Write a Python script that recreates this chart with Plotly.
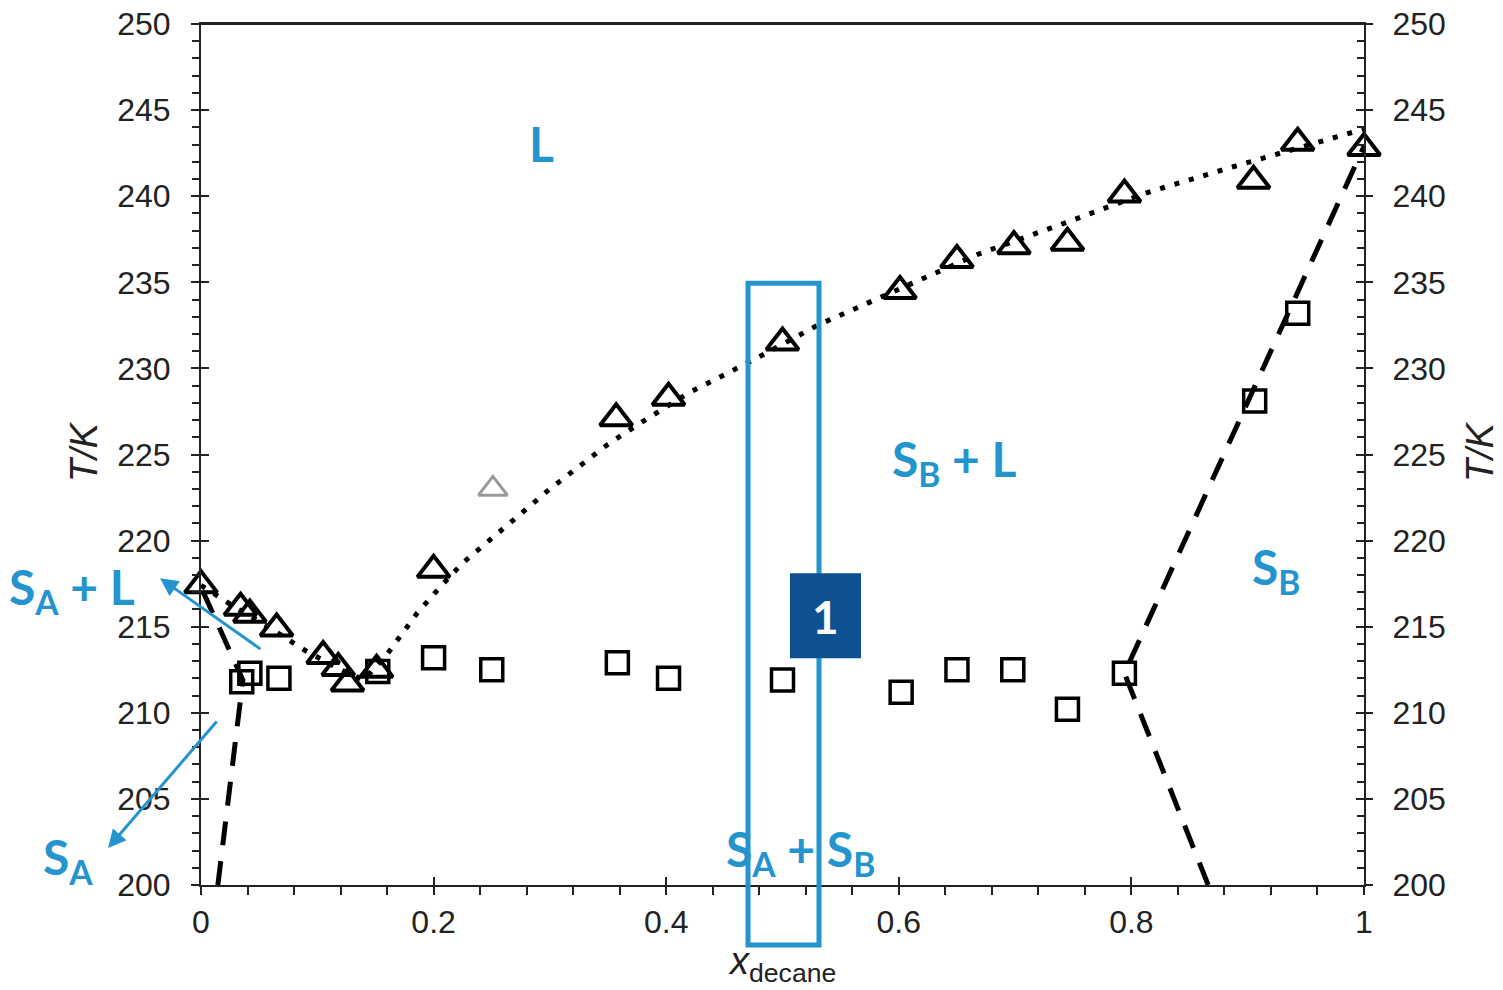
import plotly.graph_objects as go

# ---------------- data ----------------
tri_x = [0.0, 0.034, 0.042, 0.065, 0.105, 0.118, 0.126, 0.151, 0.200, 0.357, 0.402,
         0.500, 0.601, 0.650, 0.699, 0.745, 0.794, 0.905, 0.943, 1.000]
tri_T = [217.4, 216.1, 215.7, 214.9, 213.3, 212.6, 211.7, 212.5, 218.3, 227.1, 228.3,
         231.5, 234.5, 236.3, 237.1, 237.3, 240.1, 240.9, 243.1, 242.8]

sq_x = [0.035, 0.042, 0.067, 0.152, 0.200, 0.250, 0.358, 0.402, 0.500, 0.602, 0.650,
        0.698, 0.745, 0.794, 0.906, 0.943]
sq_T = [211.8, 212.3, 212.0, 212.4, 213.2, 212.5, 212.9, 212.0, 211.9, 211.2, 212.5,
        212.5, 210.2, 212.3, 228.1, 233.2]

grey_x = [0.251]
grey_T = [223.0]

liq_x = [0.0, 0.03, 0.06, 0.09, 0.12, 0.14, 0.16, 0.186, 0.2055, 0.225, 0.246, 0.30,
         0.35, 0.377, 0.42, 0.478, 0.53, 0.586, 0.629, 0.667, 0.745, 0.813, 0.887,
         0.96, 1.0]
liq_T = [217.4, 216.1, 214.9, 213.6, 212.5, 211.9, 213.4, 215.8, 217.3, 218.7, 219.9,
         223.0, 225.6, 226.8, 228.6, 230.6, 232.5, 234.2, 235.5, 236.6, 238.5, 240.2,
         241.7, 243.1, 243.9]

solA_x = [0.0145, 0.036, 0.0]
solA_T = [200.0, 211.9, 217.3]
solB_x = [0.866, 0.794, 1.0]
solB_T = [200.0, 212.3, 242.9]

x_ticks = [0, 0.2, 0.4, 0.6, 0.8, 1]
x_ticklabels = ["0", "0.2", "0.4", "0.6", "0.8", "1"]
y_ticks = [200, 205, 210, 215, 220, 225, 230, 235, 240, 245, 250]

# ---------------- styling ----------------
BLUE = "#2394CE"
DARK = "#0E5190"
AX = "#222222"
W, H = 1503, 990
L_PX, R_PX, T_PX, B_PX = 201, 1364, 23.5, 885


def px(x):
    return (x - L_PX) / (R_PX - L_PX)


def py(y):
    return (B_PX - y) / (B_PX - T_PX)


fig = go.Figure()

fig.add_trace(go.Scatter(x=liq_x, y=liq_T, mode="lines",
                         line=dict(color="black", width=5, dash="5px,10px"),
                         showlegend=False, hoverinfo="skip"))
fig.add_trace(go.Scatter(x=solA_x, y=solA_T, mode="lines",
                         line=dict(color="black", width=5, dash="24px,16px"),
                         showlegend=False, hoverinfo="skip"))
fig.add_trace(go.Scatter(x=solB_x, y=solB_T, mode="lines",
                         line=dict(color="black", width=5, dash="24px,16px"),
                         showlegend=False, hoverinfo="skip"))
fig.add_trace(go.Scatter(x=grey_x, y=grey_T, mode="markers",
                         marker=dict(symbol="triangle-up-open", size=25, color="#9a9a9a",
                                     line=dict(width=3, color="#9a9a9a")),
                         showlegend=False, hoverinfo="skip"))
fig.add_trace(go.Scatter(x=sq_x, y=sq_T, mode="markers",
                         marker=dict(symbol="square-open", size=22, color="black",
                                     line=dict(width=3.5, color="black")),
                         showlegend=False))
fig.add_trace(go.Scatter(x=tri_x, y=tri_T, mode="markers",
                         marker=dict(symbol="triangle-up-open", size=28, color="black",
                                     line=dict(width=4, color="black")),
                         showlegend=False, cliponaxis=False))

# dummy traces for auxiliary axes
fig.add_trace(go.Scatter(x=[None], y=[None], xaxis="x2", yaxis="y", showlegend=False, hoverinfo="skip"))
fig.add_trace(go.Scatter(x=[None], y=[None], xaxis="x", yaxis="y2", showlegend=False, hoverinfo="skip"))
fig.add_trace(go.Scatter(x=[None], y=[None], xaxis="x", yaxis="y3", showlegend=False, hoverinfo="skip"))
fig.add_trace(go.Scatter(x=[None], y=[None], xaxis="x", yaxis="y4", showlegend=False, hoverinfo="skip"))

tickfont = dict(family="Liberation Sans, Arial", size=32, color=AX)

fig.update_layout(
    width=W, height=H,
    margin=dict(l=L_PX, r=W - R_PX, t=T_PX, b=H - B_PX, autoexpand=False),
    paper_bgcolor="white", plot_bgcolor="white",
    xaxis=dict(range=[0, 1], tickvals=x_ticks, ticktext=x_ticklabels, automargin=False,
               ticks="outside", ticklen=8, tickwidth=2, tickcolor=AX,
               minor=dict(dtick=0.04, tick0=0, ticks="outside", ticklen=8, tickwidth=2, tickcolor=AX),
               showline=True, linecolor=AX, linewidth=2, mirror=True,
               showgrid=False, zeroline=False, tickfont=tickfont, ticklabelstandoff=0,
               ticklabeloverflow="allow"),
    xaxis2=dict(range=[0, 1], overlaying="x", side="bottom", anchor="y", automargin=False,
                tickvals=x_ticks, ticks="inside", ticklen=8, tickwidth=2, tickcolor=AX,
                showticklabels=False, showline=False, showgrid=False, zeroline=False),
    yaxis=dict(range=[200, 250], tickvals=y_ticks, ticks="outside", ticklen=8, tickwidth=2,
               tickcolor=AX, automargin=False, ticklabeloverflow="allow",
               minor=dict(dtick=1, tick0=200, ticks="outside", ticklen=7, tickwidth=2, tickcolor=AX),
               showline=True, linecolor=AX, linewidth=2, showgrid=False, zeroline=False,
               tickfont=tickfont, ticklabelstandoff=14),
    yaxis2=dict(range=[200, 250], overlaying="y", side="left", anchor="x", automargin=False,
                tickvals=y_ticks, ticks="inside", ticklen=8, tickwidth=2, tickcolor=AX,
                showticklabels=False, showline=False, showgrid=False, zeroline=False),
    yaxis3=dict(range=[200, 250], overlaying="y", side="right", anchor="x", automargin=False,
                tickvals=y_ticks, ticks="inside", ticklen=8, tickwidth=2, tickcolor=AX,
                ticklabeloverflow="allow",
                minor=dict(dtick=1, tick0=200, ticks="inside", ticklen=7, tickwidth=2, tickcolor=AX),
                showline=True, linecolor=AX, linewidth=2, showgrid=False, zeroline=False,
                tickfont=tickfont, ticklabelstandoff=20),
    yaxis4=dict(range=[200, 250], overlaying="y", side="right", anchor="x", automargin=False,
                tickvals=y_ticks, ticks="outside", ticklen=8, tickwidth=2, tickcolor=AX,
                showticklabels=False, showline=False, showgrid=False, zeroline=False),
)

# top frame line
fig.add_shape(type="line", xref="paper", yref="paper", x0=0, x1=1, y0=1, y1=1,
              line=dict(color=AX, width=2), layer="above")

# shapes: blue selection rectangle and dark box
fig.add_shape(type="rect", xref="paper", yref="paper",
              x0=px(748), x1=px(819), y0=py(945), y1=py(283),
              line=dict(color=BLUE, width=5), fillcolor="rgba(0,0,0,0)", layer="above")
fig.add_shape(type="rect", xref="paper", yref="paper",
              x0=px(790), x1=px(861), y0=py(658), y1=py(573),
              line=dict(width=0), fillcolor=DARK, layer="above")

lab = dict(family="Lato, Open Sans, sans-serif", size=48, color=BLUE, weight="bold")


def label(text, cx, cy, font=lab):
    fig.add_annotation(text=text, xref="paper", yref="paper", x=px(cx), y=py(cy),
                       xanchor="center", yanchor="middle", showarrow=False, font=font)


label("L", 541, 143)
label("S<sub>B</sub> + L", 954, 462)
label("S<sub>B</sub>", 1276, 570)
label("S<sub>A</sub> + L", 72, 590)
label("S<sub>A</sub>", 68, 860)
label("S<sub>A</sub> + S<sub>B</sub>", 800, 852)
label("1", 825, 616, dict(family="Lato, Open Sans, sans-serif", size=46, color="white", weight="bold"))

# arrows
fig.add_annotation(xref="paper", yref="paper", x=px(160), y=py(578), ax=262 - 160, ay=650 - 578,
                   axref="pixel", ayref="pixel", text="", showarrow=True,
                   arrowhead=2, arrowsize=1.2, arrowwidth=3, arrowcolor=BLUE)
fig.add_annotation(xref="paper", yref="paper", x=px(108), y=py(848), ax=218 - 108, ay=720 - 848,
                   axref="pixel", ayref="pixel", text="", showarrow=True,
                   arrowhead=2, arrowsize=1.2, arrowwidth=3, arrowcolor=BLUE)

# axis titles
tfont = dict(family="Liberation Sans, Arial", size=38, color=AX)
fig.add_annotation(text="<i>T/K</i>", xref="paper", yref="paper", x=px(84), y=py(452),
                   textangle=-90, showarrow=False, font=tfont, xanchor="center", yanchor="middle")
fig.add_annotation(text="<i>T/K</i>", xref="paper", yref="paper", x=px(1480), y=py(452),
                   textangle=-90, showarrow=False, font=tfont, xanchor="center", yanchor="middle")
fig.add_annotation(text="<i>x</i><sub>decane</sub>", xref="paper", yref="paper",
                   x=px(782), y=py(964), showarrow=False,
                   font=dict(family="Liberation Sans, Arial", size=38, color=AX),
                   xanchor="center", yanchor="middle")

fig.write_html("out.html", config={"displayModeBar": False},
               post_script="document.body.style.margin='0';document.body.style.overflow='hidden';")
